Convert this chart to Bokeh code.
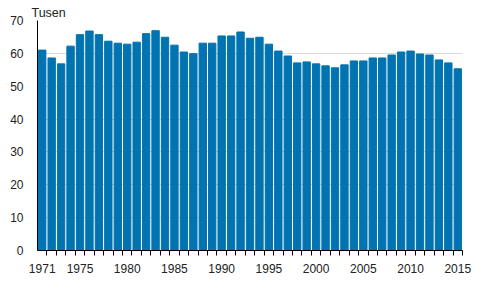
from bokeh.plotting import figure
from bokeh.models import Range1d, FixedTicker, ColumnDataSource
from bokeh.embed import file_html
from bokeh.resources import INLINE

years = list(range(1971, 2016))
values = [61.0, 58.6, 56.8, 62.2, 65.7, 66.8, 65.7, 63.7, 63.1, 62.8,
          63.4, 66.0, 66.9, 64.9, 62.5, 60.4, 59.9, 63.1, 63.1, 65.3,
          65.3, 66.5, 64.6, 64.9, 62.8, 60.7, 59.2, 57.1, 57.4, 56.8,
          56.2, 55.6, 56.5, 57.7, 57.7, 58.6, 58.6, 59.5, 60.4, 60.7,
          59.8, 59.5, 58.0, 57.1, 55.3]
x_labels = [1971, 1975, 1980, 1985, 1990, 1995, 2000, 2005, 2010, 2015]
y_ticks = [0, 10, 20, 30, 40, 50, 60, 70]
unit_label = "Tusen"

FONT = "Liberation Sans"
TXT = "#222222"
FS = "12px"

src = ColumnDataSource(dict(x=years, top=values))

p = figure(width=491, height=302, output_backend="svg", toolbar_location=None,
           x_range=Range1d(years[0] - 0.5, years[-1] + 0.5), y_range=Range1d(0, 70),
           min_border_left=37, min_border_right=29, min_border_top=20, min_border_bottom=52,
           title=unit_label)
p.outline_line_color = None
p.background_fill_color = "white"
p.border_fill_color = "white"

p.title.align = "left"
p.title.offset = -6
p.title.standoff = 2
p.title.text_font = FONT
p.title.text_font_size = "12.5px"
p.title.text_font_style = "normal"
p.title.text_color = TXT

p.vbar(x="x", top="top", width=0.78, source=src, color="#0073b0")

boundaries = [y + 0.5 for y in years]
p.xaxis.ticker = FixedTicker(ticks=x_labels, minor_ticks=boundaries)
p.xaxis.major_tick_line_color = None
p.xaxis.minor_tick_line_color = "black"
p.xaxis.minor_tick_out = 5
p.xaxis.minor_tick_in = 0
p.xaxis.axis_line_color = "black"
p.xaxis.major_label_text_font = FONT
p.xaxis.major_label_text_font_size = FS
p.xaxis.major_label_text_color = TXT
p.xaxis.major_label_standoff = 7

p.yaxis.ticker = FixedTicker(ticks=y_ticks)
p.yaxis.major_tick_line_color = None
p.yaxis.minor_tick_line_color = None
p.yaxis.axis_line_color = "black"
p.yaxis.major_label_text_font = FONT
p.yaxis.major_label_text_font_size = FS
p.yaxis.major_label_text_color = TXT
p.yaxis.major_label_standoff = 8

p.xgrid.grid_line_color = None
p.ygrid.grid_line_color = "#d9d9d9"
p.ygrid.grid_line_width = 1

open("out.html", "w").write(file_html(p, INLINE))
